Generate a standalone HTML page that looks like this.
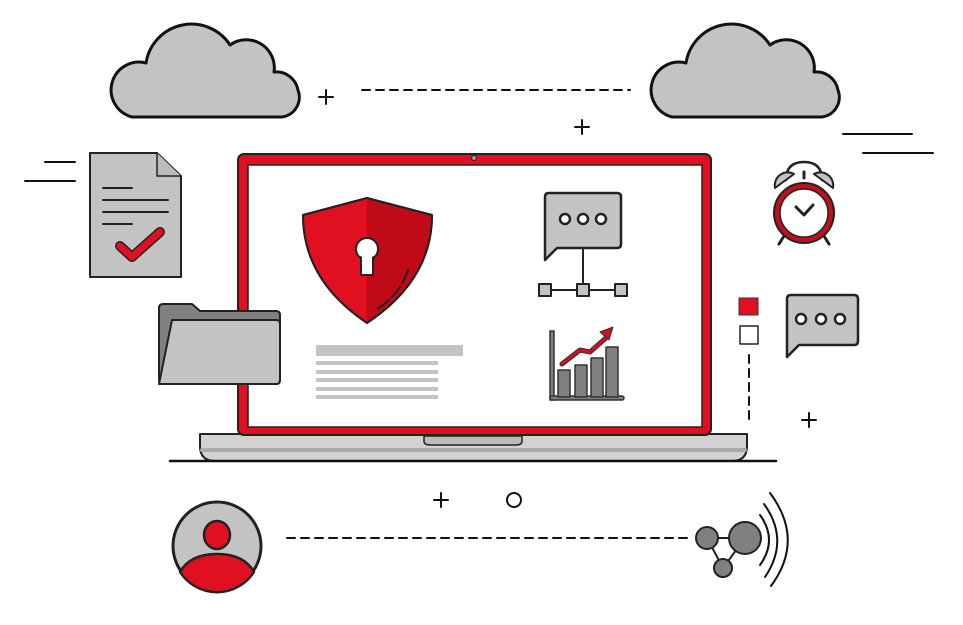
<!DOCTYPE html>
<html><head><meta charset="utf-8"><style>html,body{margin:0;padding:0;background:#fff}svg{display:block}</style></head>
<body>
<svg width="963" height="625" viewBox="0 0 963 625" xmlns="http://www.w3.org/2000/svg" stroke-linejoin="round" stroke-linecap="round">
<!-- clouds -->
<g fill="#c3c3c3" stroke="#111" stroke-width="3">
<path d="M132 117 H282 A20 20 0 0 0 298 90 A22 22 0 0 0 274 72 A28 28 0 0 0 230 45 A46 46 0 0 0 146 63 A27 27 0 0 0 132 117 Z"/>
<path d="M672 117 H822 A20 20 0 0 0 838 90 A22 22 0 0 0 814 72 A28 28 0 0 0 770 45 A46 46 0 0 0 686 63 A27 27 0 0 0 672 117 Z"/>
</g>
<g stroke="#111" stroke-width="2" fill="none">
<path d="M319 97 H333 M326 90 V104"/>
<path d="M575 127 H589 M582 120 V134"/>
<path d="M802 420 H816 M809 413 V427"/>
<path d="M434 500 H448 M441 493 V507"/>
<circle cx="514" cy="500" r="7"/>
<path d="M362 90 H630" stroke-dasharray="8 6"/>
<path d="M843 134 H912 M863 153 H933 M45 162 H75 M25 181 H75"/>
<path d="M287 538 H690" stroke-dasharray="8 6"/>
<path d="M749 355 V420" stroke-dasharray="8 6"/>
</g>
<!-- document -->
<path d="M90 153 H157 L181 176 V277 H90 Z" fill="#c3c3c3" stroke="#222" stroke-width="2"/>
<path d="M157 153 V176 H181" fill="#bbb" stroke="#222" stroke-width="1.5"/>
<g stroke="#222" stroke-width="2"><path d="M103 188 H132 M103 200 H168 M103 212 H168 M103 224 H132"/></g>
<path d="M120 246 L132 257 L160 232" fill="none" stroke="#222" stroke-width="10"/>
<path d="M120 246 L132 257 L160 232" fill="none" stroke="#e01020" stroke-width="7"/>
<!-- laptop base -->
<path d="M200 434 H747 V446 Q747 461 732 461 H215 Q200 461 200 446 Z" fill="#d2d2d2" stroke="#222" stroke-width="2"/>
<path d="M202 450 H745" stroke="#aaa" stroke-width="4"/>
<path d="M424 436 H522 V441 Q522 445 516 445 H430 Q424 445 424 441 Z" fill="#bbb" stroke="#222" stroke-width="1.5"/>
<path d="M170 461 H776" stroke="#111" stroke-width="2.5"/>
<!-- lid -->
<rect x="238" y="154" width="473" height="281" rx="6" fill="#e01020" stroke="#222" stroke-width="2"/>
<rect x="248" y="165" width="454" height="262" fill="#fff" stroke="#222" stroke-width="1.5"/>
<circle cx="474" cy="158" r="2.5" fill="#999" stroke="#222" stroke-width="1"/>
<!-- folder -->
<path d="M159 308 Q159 304 163 304 H192 L200 311 H276 Q280 311 280 315 V380 Q280 384 276 384 H163 Q159 384 159 380 Z" fill="#808080" stroke="#222" stroke-width="2"/>
<path d="M172 320 H276 Q280 320 280 324 V380 Q280 384 276 384 H159 Z" fill="#c3c3c3" stroke="#222" stroke-width="2"/>
<!-- shield -->
<path d="M367 198 L303 215 Q303 280 367 323 Q432 280 432 215 Z" fill="#e01020" stroke="#222" stroke-width="2"/>
<path d="M367 199 L431 216 Q431 280 367 322 Z" fill="#c00a18"/>
<path d="M367 198 L303 215 Q303 280 367 323 Q432 280 432 215 Z" fill="none" stroke="#222" stroke-width="2"/>
<path d="M408 270 Q400 295 376 310" fill="none" stroke="#222" stroke-width="2" stroke-dasharray="14 4"/>
<circle cx="367" cy="249" r="11" fill="#fff" stroke="#222" stroke-width="2"/>
<rect x="361" y="254" width="12" height="21" fill="#fff" stroke="#222" stroke-width="2"/>
<circle cx="367" cy="249" r="9.5" fill="#fff"/>
<!-- text lines -->
<rect x="316" y="345" width="147" height="11" fill="#c3c3c3"/>
<g fill="#c3c3c3"><rect x="316" y="361" width="122" height="4"/><rect x="316" y="370" width="122" height="4"/><rect x="316" y="378" width="122" height="4"/><rect x="316" y="387" width="122" height="4"/><rect x="316" y="395" width="122" height="4"/></g>
<!-- chat network -->
<path d="M549 193 H617 Q621 193 621 197 V244 Q621 248 617 248 H557 L545 260 V197 Q545 193 549 193 Z" fill="#c3c3c3" stroke="#222" stroke-width="2.5"/>
<g fill="#fff" stroke="#222" stroke-width="2.5"><circle cx="565" cy="219" r="5"/><circle cx="583" cy="219" r="5"/><circle cx="601" cy="219" r="5"/></g>
<path d="M583 248 V290 M545 290 H621" stroke="#222" stroke-width="2"/>
<g fill="#c3c3c3" stroke="#222" stroke-width="2"><rect x="539" y="284" width="12" height="12"/><rect x="577" y="284" width="12" height="12"/><rect x="615" y="284" width="12" height="12"/></g>
<!-- chart -->
<g fill="#808080" stroke="#333" stroke-width="1.5">
<rect x="550" y="331" width="4" height="69"/>
<rect x="550" y="396" width="74" height="4" rx="2"/>
<rect x="558" y="370" width="12" height="27"/><rect x="575" y="365" width="12" height="32"/><rect x="591" y="358" width="12" height="39"/><rect x="606" y="347" width="12" height="50"/>
</g>
<path d="M562 364 L580 350 L590 352 L607 337" fill="none" stroke="#333" stroke-width="5"/>
<path d="M562 364 L580 350 L590 352 L607 337" fill="none" stroke="#d01020" stroke-width="3"/>
<path d="M600 332 L613 327 L609 340 Z" fill="#d01020" stroke="#333" stroke-width="1"/>
<!-- alarm clock -->
<path d="M786 180 Q786 162 804 162 Q822 162 822 180" fill="none" stroke="#222" stroke-width="2.5"/>
<path d="M775 188 A13 13 0 0 1 794 174 Z" fill="#c3c3c3" stroke="#222" stroke-width="2"/>
<path d="M833 188 A13 13 0 0 0 814 174 Z" fill="#c3c3c3" stroke="#222" stroke-width="2"/>
<path d="M804 172 V178" stroke="#222" stroke-width="3"/>
<path d="M784 236 L779 244 M824 236 L829 244" stroke="#222" stroke-width="3"/>
<circle cx="804" cy="213" r="30" fill="#c01020" stroke="#222" stroke-width="2"/>
<circle cx="804" cy="213" r="24" fill="#fff" stroke="#222" stroke-width="1.5"/>
<path d="M796 207 L804 215 L813 205" fill="none" stroke="#222" stroke-width="3"/>
<!-- squares -->
<rect x="739" y="298" width="19" height="17" fill="#e01020" stroke="#333" stroke-width="1"/>
<rect x="740" y="326" width="18" height="18" fill="#fff" stroke="#222" stroke-width="1.5"/>
<!-- right chat -->
<path d="M791 295 H854 Q858 295 858 299 V341 Q858 345 854 345 H799 L787 357 V299 Q787 295 791 295 Z" fill="#c3c3c3" stroke="#222" stroke-width="2.5"/>
<g fill="#fff" stroke="#222" stroke-width="2.5"><circle cx="801" cy="319" r="5"/><circle cx="821" cy="319" r="5"/><circle cx="840" cy="319" r="5"/></g>
<!-- avatar -->
<circle cx="217" cy="546" r="44" fill="#c3c3c3" stroke="#222" stroke-width="3"/>
<path d="M180 572 Q190 554 217 554 Q244 554 254 572 A44 44 0 0 1 180 572 Z" fill="#e01020" stroke="#222" stroke-width="2.5"/>
<ellipse cx="217" cy="535" rx="13" ry="14" fill="#e01020" stroke="#222" stroke-width="2.5"/>
<!-- network -->
<path d="M707 538 H745 L723 568 Z" fill="none" stroke="#222" stroke-width="2"/>
<g fill="#808080" stroke="#222" stroke-width="2"><circle cx="707" cy="538" r="11"/><circle cx="745" cy="538" r="16"/><circle cx="723" cy="568" r="9"/></g>
<g fill="none" stroke="#111" stroke-width="2">
<path d="M760 515 Q778 540 760 565"/>
<path d="M764 504 Q790 540 765 577"/>
<path d="M770 493 Q805 540 771 586"/>
</g>
</svg>
</body></html>
